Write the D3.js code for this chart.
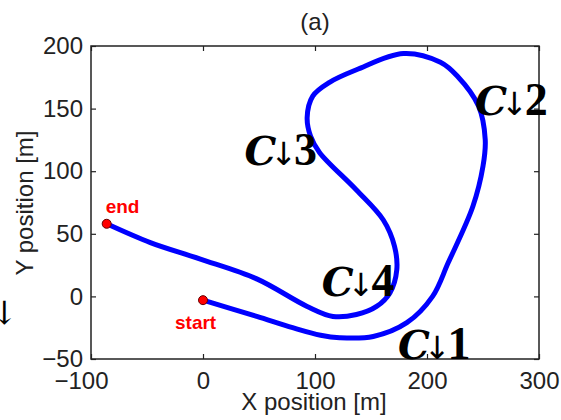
<!DOCTYPE html>
<html>
<head>
<meta charset="utf-8">
<script src="https://cdn.jsdelivr.net/npm/d3@7.9.0/dist/d3.min.js"></script>
<style>
  body { margin: 0; background: #fff; }
  svg { display: block; }
  .tick text { font-family: "Liberation Sans", Arial, sans-serif; font-size: 24px; fill: #222; }
</style>
</head>
<body>
<svg width="561" height="420"></svg>
<script>
// trajectory, in metres
const pathX = [0, 48, 80, 105, 122, 152, 182, 205, 219, 241, 250, 252, 246, 227, 212, 179, 137, 113, 98, 93, 96, 104, 137, 161, 171, 173, 167, 155, 137, 116, 93, 48, -3, -47, -86];
const pathY = [-3, -16, -25, -31, -33, -32, -21, 0, 27, 72, 104, 125, 152, 176, 187, 194, 181, 171, 160, 143, 128, 115, 85, 61, 40, 21, 3, -8, -14.5, -16, -8, 14, 30, 43, 58];

const xTicks = [-100, 0, 100, 200, 300];
const yTicks = [-50, 0, 50, 100, 150, 200];

const markerNames = ['start', 'end'];
const markerX = [0, -86];
const markerY = [-3, 58];

const cLabels = ['1', '2', '3', '4'];
const cLabelX = [174, 243, 37, 106];
const cLabelY = [-50, 145, 105, 0];

const svg = d3.select('svg');
const mLeft = 91, mRight = 539, mTop = 46, mBottom = 359;

let x = d3.scaleLinear().domain([-100, 300]).range([mLeft, mRight]);
let y = d3.scaleLinear().domain([-50, 200]).range([mBottom, mTop]);

// box
svg.append('rect')
  .attr('x', mLeft).attr('y', mTop)
  .attr('width', mRight - mLeft).attr('height', mBottom - mTop)
  .attr('fill', 'none').attr('stroke', '#222').attr('stroke-width', 1.5);

// axes with inward ticks
let fmt = d => d < 0 ? '\u2212' + (-d) : d;
let gx = svg.append('g').attr('transform', `translate(0,${mBottom})`)
  .call(d3.axisBottom(x).tickValues(xTicks).tickSize(-5).tickPadding(13).tickFormat(fmt));
svg.append('g').attr('transform', `translate(${mLeft},0)`)
  .call(d3.axisLeft(y).tickValues(yTicks).tickSize(-5).tickPadding(8).tickFormat(fmt));
svg.append('g').attr('transform', `translate(0,${mTop})`)
  .call(d3.axisTop(x).tickValues(xTicks).tickSize(-5).tickFormat(''));
svg.append('g').attr('transform', `translate(${mRight},0)`)
  .call(d3.axisRight(y).tickValues(yTicks).tickSize(-5).tickFormat(''));

// the -100 label sits a bit left in the original
gx.selectAll('.tick text').filter(d => d === -100).attr('dx', -10);

svg.selectAll('.domain').remove();
svg.selectAll('.tick line').attr('stroke', '#222').attr('stroke-width', 1.2);

// title + axis labels
svg.append('text').attr('x', 315).attr('y', 30).attr('text-anchor', 'middle')
  .style('font', '24px "Liberation Sans", Arial, sans-serif').attr('fill', '#222').text('(a)');
svg.append('text').attr('x', 314).attr('y', 410).attr('text-anchor', 'middle')
  .style('font', '24px "Liberation Sans", Arial, sans-serif').attr('fill', '#222').text('X position [m]');
svg.append('text').attr('transform', 'translate(33,203) rotate(-90)').attr('text-anchor', 'middle')
  .style('font', '24px "Liberation Sans", Arial, sans-serif').attr('fill', '#222').text('Y position [m]');

// trajectory
let points = pathX.map((d, i) => [d, pathY[i]]);
let line = d3.line().x(d => x(d[0])).y(d => y(d[1])).curve(d3.curveCatmullRom.alpha(0.5));
svg.append('path').attr('d', line(points))
  .attr('fill', 'none').attr('stroke', '#0000ff').attr('stroke-width', 5)
  .attr('stroke-linecap', 'round').attr('stroke-linejoin', 'round');

// start / end markers
markerNames.forEach((name, i) => {
  svg.append('circle')
    .attr('cx', x(markerX[i])).attr('cy', y(markerY[i])).attr('r', 4.5)
    .attr('fill', '#ff0000').attr('stroke', '#600').attr('stroke-width', 1);
});
svg.append('text').attr('x', x(-86) - 1).attr('y', y(58) - 11)
  .style('font', 'bold 19px "Liberation Sans", Arial, sans-serif').attr('fill', '#ff0000').text('end');
svg.append('text').attr('x', x(0) - 28).attr('y', y(-3) + 29)
  .style('font', 'bold 19px "Liberation Sans", Arial, sans-serif').attr('fill', '#ff0000').text('start');

// C labels
cLabels.forEach((lab, i) => {
  let t = svg.append('text').attr('x', x(cLabelX[i])).attr('y', y(cLabelY[i])).attr('fill', '#000');
  t.append('tspan').style('font', 'italic bold 40px "DejaVu Serif", serif').text('C');
  t.append('tspan').style('font', '32px "DejaVu Sans", sans-serif').attr('dx', -6).text('\u2193');
  t.append('tspan').style('font', 'bold 46px "Liberation Serif", serif').attr('dx', -3).text(lab);
});
// stray arrow cut by the left edge
svg.append('text').attr('x', -9).attr('y', 324)
  .style('font', 'italic 32px "DejaVu Serif", serif').attr('fill', '#000').text('\u2193');
</script>
</body>
</html>
